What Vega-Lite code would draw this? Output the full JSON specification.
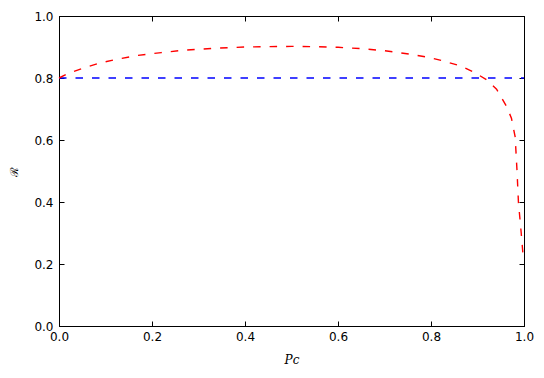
{
  "$schema": "https://vega.github.io/schema/vega-lite/v6.json",
  "width": 465,
  "height": 310,
  "padding": {"left": 59, "top": 16, "right": 20, "bottom": 52},
  "autosize": {"type": "none"},
  "background": "white",
  "config": {
    "view": {"stroke": "black", "strokeWidth": 1},
    "axis": {
      "grid": false,
      "domainColor": "black",
      "tickColor": "black",
      "labelColor": "black",
      "labelFont": "DejaVu Sans",
      "labelFontSize": 12,
      "labelFlush": false,
      "labelOverlap": false,
      "tickSize": -5,
      "titleColor": "black"
    }
  },
  "datasets": {
    "curve": [
      {"x": 0.0, "y": 0.8},
      {"x": 0.02, "y": 0.815},
      {"x": 0.05, "y": 0.831},
      {"x": 0.085, "y": 0.847},
      {"x": 0.12, "y": 0.859},
      {"x": 0.17, "y": 0.873},
      {"x": 0.22, "y": 0.882},
      {"x": 0.264, "y": 0.889},
      {"x": 0.335, "y": 0.896},
      {"x": 0.4, "y": 0.9},
      {"x": 0.45, "y": 0.901},
      {"x": 0.5, "y": 0.902},
      {"x": 0.55, "y": 0.901},
      {"x": 0.6, "y": 0.899},
      {"x": 0.647, "y": 0.895},
      {"x": 0.7, "y": 0.888},
      {"x": 0.755, "y": 0.877},
      {"x": 0.8, "y": 0.865},
      {"x": 0.826, "y": 0.855},
      {"x": 0.862, "y": 0.84},
      {"x": 0.891, "y": 0.82},
      {"x": 0.92, "y": 0.794},
      {"x": 0.941, "y": 0.764},
      {"x": 0.963, "y": 0.707},
      {"x": 0.973, "y": 0.67},
      {"x": 0.981, "y": 0.61},
      {"x": 0.985, "y": 0.5},
      {"x": 0.988, "y": 0.4},
      {"x": 0.994, "y": 0.3},
      {"x": 0.999, "y": 0.21}
    ],
    "base": [
      {"x": 0.0, "y": 0.8},
      {"x": 1.0, "y": 0.8}
    ]
  },
  "resolve": {"axis": {"x": "independent", "y": "independent"}},
  "layer": [
    {
      "data": {"name": "base"},
      "mark": {"type": "line", "color": "#0000ff", "strokeWidth": 1.4, "strokeDash": [7.5, 9]},
      "encoding": {
        "x": {"field": "x", "type": "quantitative", "scale": {"domain": [0, 1], "nice": false},
          "axis": {"orient": "bottom", "values": [0, 0.2, 0.4, 0.6, 0.8, 1.0], "format": ".1f", "labelPadding": 10,
            "title": "Pc", "titleFont": "DejaVu Serif", "titleFontStyle": "italic", "titleFontWeight": "normal", "titleFontSize": 12, "titlePadding": 12}},
        "y": {"field": "y", "type": "quantitative", "scale": {"domain": [0, 1], "nice": false},
          "axis": {"orient": "left", "values": [0, 0.2, 0.4, 0.6, 0.8, 1.0], "format": ".1f", "labelPadding": 11,
            "title": "ℛ", "titleFont": "DejaVu Serif", "titleFontWeight": "normal", "titleFontSize": 11, "titlePadding": 14}}
      }
    },
    {
      "data": {"name": "curve"},
      "mark": {"type": "line", "color": "#ff0000", "strokeWidth": 1.4, "strokeDash": [7.5, 9]},
      "encoding": {
        "x": {"field": "x", "type": "quantitative",
          "axis": {"orient": "top", "values": [0, 0.2, 0.4, 0.6, 0.8, 1.0], "labels": false, "title": null}},
        "y": {"field": "y", "type": "quantitative",
          "axis": {"orient": "right", "values": [0, 0.2, 0.4, 0.6, 0.8, 1.0], "labels": false, "title": null}}
      }
    }
  ]
}
